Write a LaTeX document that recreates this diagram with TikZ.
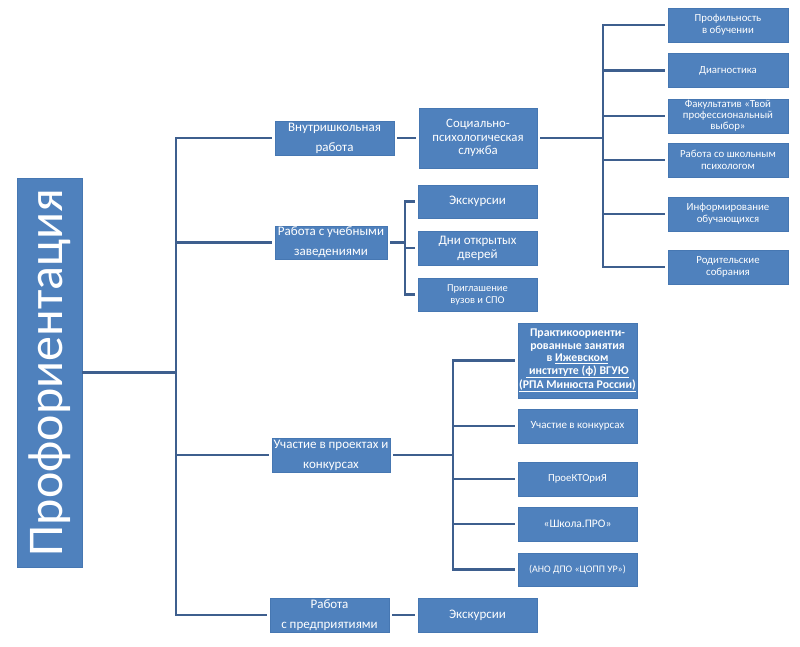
\documentclass[tikz,border=0pt]{standalone}
\usepackage{fontspec}
\setmainfont{Carlito}
\definecolor{boxblue}{HTML}{4F81BD}
\definecolor{boxedge}{HTML}{4677B2}
\definecolor{lineblue}{HTML}{3E5F8E}
\begin{document}
\begin{tikzpicture}[x=1pt,y=-1pt,
  box/.style={fill=boxblue, draw=boxedge, line width=0.4pt, text=white, align=center,
    inner sep=1pt, minimum width=119pt, minimum height=34pt},
  lone/.style={box, font=\fontsize{13}{20}\selectfont},
  ltwo/.style={box, font=\fontsize{13}{14}\selectfont},
  lsmall/.style={box, font=\fontsize{10.8}{12}\selectfont},
  conn/.style={draw=lineblue, line width=2.8pt},
  gap/.style={conn, shorten >=3pt},
  gapb/.style={conn, shorten >=3pt, shorten <=3pt}]
\useasboundingbox (0,0) rectangle (800,646);

% root
\node[box, rotate=90, minimum width=389pt, minimum height=65pt, inner sep=0pt,
  font=\fontsize{50}{56}\selectfont] (root) at (49.5,372.5) {Профориентация};

% level 1
\node[lone] (a1) at (334.5,138) {Внутришкольная\\работа};
\node[lone, minimum width=112pt, minimum height=33pt] (a2) at (331,242.5) {Работа с учебными\\заведениями};
\node[lone, minimum width=118pt] (a3) at (331,455) {Участие в проектах и\\конкурсах};
\node[lone] (a4) at (329.5,615) {Работа\\с предприятиями};

% level 2
\node[box, minimum width=118pt, minimum height=60pt, font=\fontsize{12.8}{13.5}\selectfont] (s) at (478,138) {Социально-\\психологическая\\служба};
\node[box, minimum height=33pt, font=\fontsize{13}{14}\selectfont] (e1) at (477.5,201.5) {Экскурсии};
\node[ltwo] (e2) at (477.5,248) {Дни открытых\\дверей};
\node[box, minimum height=33pt, font=\fontsize{10.5}{12}\selectfont] (e3) at (477.5,294.5) {Приглашение\\вузов и СПО};

\node[box, minimum height=75pt, font=\fontsize{11.8}{12.5}\bfseries\selectfont] (p1) at (577.5,360.5)
  {Практикоориенти-\\рованные занятия\\в \underline{Ижевском}\\\underline{ институте (ф) ВГУЮ}\\\underline{(РПА Минюста России)}};
\node[box, font=\fontsize{11}{12}\selectfont] (p2) at (577.5,426) {Участие в конкурсах};
\node[lsmall] (p3) at (577.5,479) {ПроеКТОриЯ};
\node[box, font=\fontsize{11.5}{12}\selectfont] (p4) at (577.5,524) {«Школа.ПРО»};
\node[box, minimum height=33pt, font=\fontsize{10}{12}\selectfont] (p5) at (577.5,569.5) {(АНО ДПО «ЦОПП УР»)};

\node[box, font=\fontsize{13}{14}\selectfont] (x2) at (477.5,615) {Экскурсии};

% right column
\node[lsmall, minimum width=120pt] (r1) at (728,25) {Профильность\\в обучении};
\node[lsmall, minimum width=120pt] (r2) at (728,70.5) {Диагностика};
\node[box, minimum width=120pt, font=\fontsize{10.8}{11}\selectfont] (r3) at (728,116) {Факультатив «Твой\\профессиональный\\выбор»};
\node[lsmall, minimum width=120pt] (r4) at (728,160) {Работа со школьным\\психологом};
\node[lsmall, minimum width=120pt] (r5) at (728,214) {Информирование\\обучающихся};
\node[lsmall, minimum width=120pt] (r6) at (728,267) {Родительские\\собрания};

% junction coordinates
\coordinate (T) at (176,372.5);
\coordinate (B) at (603,0);
\coordinate (C) at (405,0);
\coordinate (D) at (453,0);

% main trunk
\draw[conn] (root) -- (T);
\draw[gapb] (a1.west) -| (a4.west -| T) -- (a4.west);
\draw[gap] (a2.west -| T) -- (a2.west);
\draw[gap] (a3.west -| T) -- (a3.west);

% internal work
\draw[gapb] (a1.east) -- (s.west);
\draw[conn, shorten <=3pt] (s.east) -- (s.east -| B);
\draw[gapb] (r1.west) -| (r6.west -| B) -- (r6.west);
\draw[gap] (r2.west -| B) -- (r2.west);
\draw[gap] (r3.west -| B) -- (r3.west);
\draw[gap] (r4.west -| B) -- (r4.west);
\draw[gap] (r5.west -| B) -- (r5.west);

% educational institutions
\draw[conn, shorten <=3pt] (a2.east) -- (a2.east -| C);
\draw[gapb] (e1.west) -| (e3.west -| C) -- (e3.west);
\draw[gap] (e2.west -| C) -- (e2.west);

% projects
\draw[conn, shorten <=3pt] (a3.east) -- (a3.east -| D);
\draw[gapb] (p1.west) -| (p5.west -| D) -- (p5.west);
\draw[gap] (p2.west -| D) -- (p2.west);
\draw[gap] (p3.west -| D) -- (p3.west);
\draw[gap] (p4.west -| D) -- (p4.west);

% enterprises
\draw[gapb] (a4.east) -- (x2.west);
\end{tikzpicture}
\end{document}
